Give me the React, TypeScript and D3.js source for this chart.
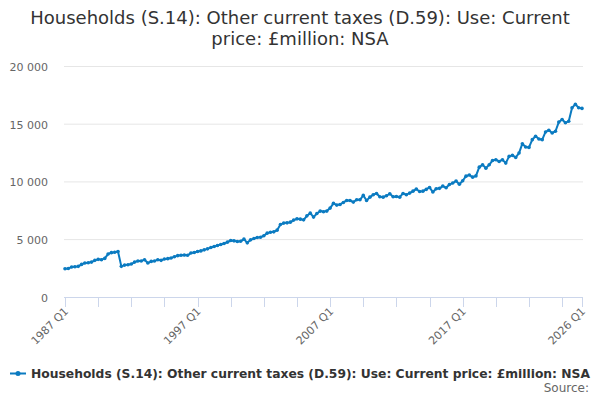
import React, { useRef, useEffect } from 'react';
import * as d3 from 'd3';

// quarterly values, 1987 Q1 .. 2026 Q1 (£ million)
const values: number[] = [
  2470, 2500, 2620, 2650, 2680, 2850, 2970, 3000, 3050, 3200,
  3290, 3260, 3370, 3750, 3870, 3900, 3960, 2680, 2790, 2820,
  2880, 3050, 3140, 3140, 3260, 2970, 3110, 3140, 3260, 3200,
  3320, 3350, 3400, 3520, 3610, 3640, 3670, 3640, 3840, 3880,
  3970, 4020, 4110, 4200, 4310, 4400, 4490, 4570, 4660, 4780,
  4920, 4890, 4830, 4860, 5040, 4720, 4980, 5090, 5180, 5210,
  5330, 5560, 5640, 5670, 5820, 6310, 6430, 6450, 6510, 6690,
  6800, 6770, 6710, 7060, 7290, 6950, 7260, 7470, 7410, 7470,
  7730, 8140, 7990, 8040, 8220, 8390, 8390, 8250, 8450, 8450,
  8830, 8390, 8680, 8890, 9000, 8710, 8680, 8800, 8970, 8710,
  8740, 8680, 9000, 8890, 9030, 9200, 9380, 9170, 9200, 9350,
  9520, 9120, 9410, 9440, 9640, 9490, 9780, 9900, 10080, 9800,
  10100, 10500, 10600, 10410, 10520, 11280, 11480, 11190, 11480, 11860,
  11920, 11770, 11920, 11630, 12210, 12300, 12120, 12500, 13310, 13020,
  12990, 13660, 13950, 13720, 13660, 14330, 14480, 14240, 14390, 15180,
  15410, 15120, 15260, 16430, 16720, 16430, 16370,
];

const startYear = 1987;
const quarters: string[] = values.map((_, i) => `${startYear + Math.floor(i / 4)} Q${(i % 4) + 1}`);

const yTicks: number[] = [0, 5000, 10000, 15000, 20000];
const xLabels: string[] = ['1987 Q1', '1997 Q1', '2007 Q1', '2017 Q1', '2026 Q1'];

const titleLines: string[] = [
  'Households (S.14): Other current taxes (D.59): Use: Current',
  'price: £million: NSA',
];
const seriesName = 'Households (S.14): Other current taxes (D.59): Use: Current price: £million: NSA';

const App = () => {
  const ref = useRef<SVGSVGElement | null>(null);

  useEffect(() => {
    document.body.style.margin = '0';
    if (!ref.current) return;
    const width = 600;
    const height = 400;
    const color = '#0b7bc1';
    const font = '"DejaVu Sans", Verdana, sans-serif';

    const svg = d3.select(ref.current);
    svg.selectAll('*').remove();
    svg.attr('width', width).attr('height', height).style('font-family', font);

    const x = d3.scaleLinear().domain([0, values.length - 1]).range([65, 582]);
    const y = d3.scaleLinear().domain([0, 20000]).range([297.3, 66.5]);

    // title
    svg.append('text')
      .attr('x', width / 2)
      .attr('text-anchor', 'middle')
      .style('font-size', '18px')
      .style('fill', '#333333')
      .selectAll('tspan')
      .data(titleLines)
      .join('tspan')
      .attr('x', width / 2)
      .attr('y', (_, i) => 24 + i * 21)
      .text(d => d);

    // grid + y labels
    const fmt = (v: number) => d3.format(',')(v).replace(/,/g, ' ');
    svg.append('g')
      .selectAll('line')
      .data(yTicks.filter(t => t > 0))
      .join('line')
      .attr('x1', 64).attr('x2', 583)
      .attr('y1', d => y(d)).attr('y2', d => y(d))
      .attr('stroke', '#e6e6e6');

    svg.append('g')
      .selectAll('text')
      .data(yTicks)
      .join('text')
      .attr('x', 48)
      .attr('y', d => y(d) + 4.5)
      .attr('text-anchor', 'end')
      .style('font-size', '11px')
      .style('fill', '#666666')
      .text(d => fmt(d));

    // x axis
    const tickIdx = d3.range(0, values.length, 10).concat([values.length - 1]);
    svg.append('line')
      .attr('x1', 64).attr('x2', 583)
      .attr('y1', 297.5).attr('y2', 297.5)
      .attr('stroke', '#ccd6eb');
    svg.append('g')
      .selectAll('line')
      .data(tickIdx)
      .join('line')
      .attr('x1', d => Math.round(x(d)) + 0.5).attr('x2', d => Math.round(x(d)) + 0.5)
      .attr('y1', 297.5).attr('y2', 307)
      .attr('stroke', '#ccd6eb');

    svg.append('g')
      .selectAll('text')
      .data(xLabels)
      .join('text')
      .attr('transform', d => `translate(${x(quarters.indexOf(d)) + 4},312) rotate(-45)`)
      .attr('text-anchor', 'end')
      .style('font-size', '11px')
      .style('fill', '#666666')
      .text(d => d);

    // series
    const line = d3.line<number>().x((_, i) => x(i)).y(d => y(d));
    svg.append('path')
      .datum(values)
      .attr('d', line)
      .attr('fill', 'none')
      .attr('stroke', color)
      .attr('stroke-width', 2)
      .attr('stroke-linejoin', 'round');
    svg.append('g')
      .selectAll('circle')
      .data(values)
      .join('circle')
      .attr('cx', (_, i) => x(i))
      .attr('cy', d => y(d))
      .attr('r', 1.8)
      .attr('fill', color);

    // legend
    svg.append('line')
      .attr('x1', 10).attr('x2', 26)
      .attr('y1', 373.5).attr('y2', 373.5)
      .attr('stroke', color)
      .attr('stroke-width', 2);
    svg.append('circle')
      .attr('cx', 18).attr('cy', 373.5).attr('r', 2.5)
      .attr('fill', color);
    svg.append('text')
      .attr('x', 31)
      .attr('y', 378)
      .attr('textLength', 559)
      .attr('lengthAdjust', 'spacingAndGlyphs')
      .style('font-size', '12.3px')
      .style('font-weight', 'bold')
      .style('fill', '#333333')
      .text(seriesName);

    svg.append('text')
      .attr('x', 589)
      .attr('y', 392)
      .attr('text-anchor', 'end')
      .style('font-size', '12px')
      .style('fill', '#666666')
      .text('Source:');
  }, []);

  return <svg ref={ref} style={{ display: 'block' }} />;
};

export default App;
